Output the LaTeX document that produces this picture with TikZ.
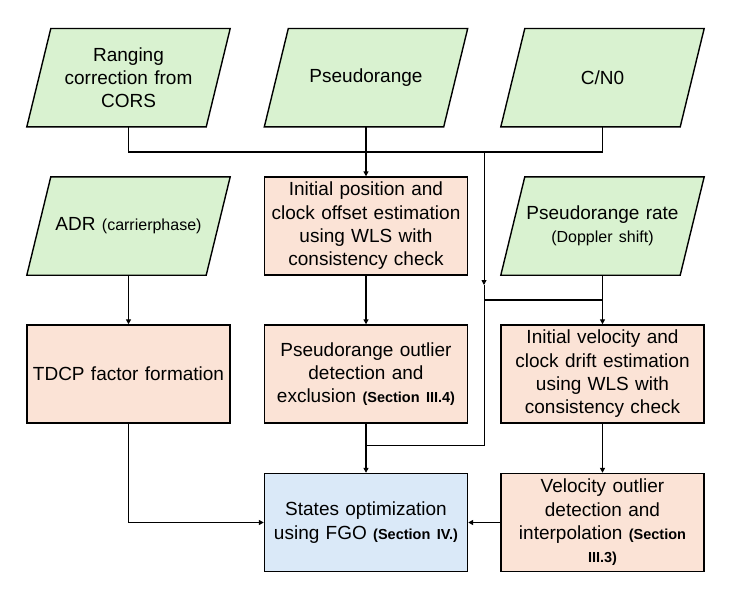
\documentclass[tikz,border=0pt]{standalone}
\usepackage{fontspec}
\setmainfont{Liberation Sans}
\usetikzlibrary{arrows.meta,backgrounds,calc}
\definecolor{ingreen}{HTML}{D9F2D0}
\definecolor{procorange}{HTML}{FBE3D6}
\definecolor{optblue}{HTML}{DAE9F8}
\newcommand\smalltxt[1]{{\fontsize{16}{18}\selectfont #1}}
\newcommand\sectxt[1]{{\fontsize{14.5}{18}\selectfont\bfseries #1}}
\newcommand\inshape[1]{%
  \begin{scope}[on background layer]
  \filldraw[fill=ingreen,draw=black,line width=1.4pt,line join=miter]
    ($(#1.north west)+(24,0)$) -- (#1.north east) -- ($(#1.south east)-(24,0)$) -- (#1.south west) -- cycle;
  \end{scope}}
\begin{document}
\begin{tikzpicture}[x=1pt,y=-1pt,
  base/.style={minimum width=203pt,minimum height=98pt,inner sep=0pt,align=center,
    text width=197pt,font=\fontsize{19}{23.3}\selectfont},
  inbox/.style={base},
  procbox/.style={base,draw=black,line width=1.4pt,fill=procorange},
  optbox/.style={base,draw=black,line width=1.4pt,fill=optblue},
  conn/.style={line width=1.5pt},
  thinconn/.style={line width=0.9pt},
  tip/.style={-{Triangle[length=5pt,width=5pt]}}]
\useasboundingbox (0,0) rectangle (739,594);

\node[inbox] (rng) at (128.5,77.7) {Ranging\\correction from\\CORS};
\node[inbox] (pr) at (366,77.7) {Pseudorange};
\node[inbox] (cn) at (602.5,77.7) {C/N0};
\node[inbox] (adr) at (128.5,226) {ADR \smalltxt{(carrierphase)}};
\node[procbox] (init) at (366,226) {Initial position and\\clock offset estimation\\using WLS with\\consistency check};
\node[inbox] (prr) at (602.5,226) {Pseudorange rate\\\smalltxt{(Doppler shift)}};
\node[procbox] (tdcp) at (128.5,374) {TDCP factor formation};
\node[procbox] (pout) at (366,374) {Pseudorange outlier\\detection and\\exclusion \sectxt{(Section III.4)}};
\node[procbox] (vest) at (602.5,374) {Initial velocity and\\clock drift estimation\\using WLS with\\consistency check};
\node[optbox] (fgo) at (366,522.5) {States optimization\\using FGO \sectxt{(Section IV.)}};
\node[procbox] (vout) at (602.5,522.5) {Velocity outlier\\detection and\\interpolation \sectxt{(Section}\\\sectxt{III.3)}};

\inshape{rng}
\inshape{pr}
\inshape{cn}
\inshape{adr}
\inshape{prr}

\coordinate (j1) at (484,152);
\coordinate (ja) at (484,285);
\coordinate (j2) at (484,300);
\coordinate (j3) at (484,445);
\coordinate (j4) at (366,445);

\draw[conn] (rng.south) -- ++(0,25) -| (cn.south);
\draw[conn,tip] (pr.south) -- (init.north);
\draw[thinconn,tip] (j1) -- (ja);
\draw[thinconn] (ja) -- (j3) -- (j4);
\draw[conn] (j2) -- (prr.south |- j2);
\draw[conn,tip] (prr.south) -- (vest.north);
\draw[conn,tip] (adr.south) -- (tdcp.north);
\draw[conn,tip] (init.south) -- (pout.north);
\draw[conn,tip] (pout.south) -- (fgo.north);
\draw[conn,tip] (tdcp.south) |- (fgo.west);
\draw[conn,tip] (vest.south) -- (vout.north);
\draw[conn,tip] (vout.west) -- (fgo.east);
\end{tikzpicture}
\end{document}
